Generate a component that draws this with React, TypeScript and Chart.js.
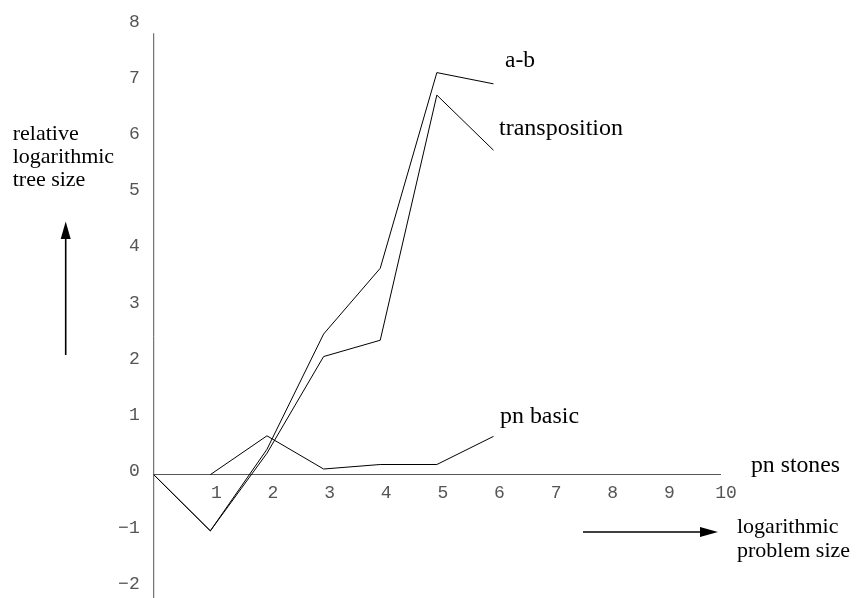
import React, { useEffect, useRef } from "react";
import { Chart, registerables } from "chart.js";

Chart.register(...registerables);

// ---- data ----
const xValues = [0, 1, 2, 3, 4, 5, 6];
const abValues = [0, -1, 0.45, 2.5, 3.67, 7.15, 6.95];
const transpositionValues = [0, -1, 0.38, 2.1, 2.39, 6.75, 5.77];
const pnBasicValues: (number | null)[] = [null, 0, 0.69, 0.1, 0.18, 0.18, 0.68];
const xTicks = [1, 2, 3, 4, 5, 6, 7, 8, 9, 10];
const yTicks = [-2, -1, 0, 1, 2, 3, 4, 5, 6, 7, 8];
const seriesLabels = ["a-b", "transposition", "pn basic"];
const xAxisTitle = "pn stones";
const xArrowTitle = ["logarithmic", "problem size"];
const yArrowTitle = ["relative", "logarithmic", "tree size"];

const AXIS_COLOR = "#555";
const TICK_COLOR = "#555";
const SERIF = '"Liberation Serif", "Times New Roman", serif';

function toPoints(vals: (number | null)[]) {
  return xValues.map((x, i) => ({ x, y: vals[i] }));
}

const annotationPlugin = {
  id: "annotations",
  afterDraw(chart: any) {
    const ctx = chart.ctx as CanvasRenderingContext2D;
    const xs = chart.scales.x;
    const ys = chart.scales.y;
    ctx.save();
    // vertical axis line
    const x0 = xs.getPixelForValue(0);
    ctx.strokeStyle = AXIS_COLOR;
    ctx.lineWidth = 1;
    ctx.beginPath();
    ctx.moveTo(x0, ys.getPixelForValue(7.85));
    ctx.lineTo(x0, chart.height);
    ctx.stroke();

    ctx.fillStyle = "#000";
    ctx.textBaseline = "alphabetic";
    ctx.textAlign = "left";
    const drawText = (t: string, x: number, y: number, size: number, w?: number) => {
      ctx.font = `${size}px ${SERIF}`;
      const m = ctx.measureText(t).width;
      const sx = w ? w / m : 1;
      ctx.save();
      ctx.translate(x, y);
      ctx.scale(sx, 1);
      ctx.fillText(t, 0, 0);
      ctx.restore();
    };
    drawText(seriesLabels[0], 505, 67, 24, 30);
    drawText(seriesLabels[1], 499, 135, 24, 124);
    drawText(seriesLabels[2], 500, 423, 24, 79);
    drawText(xAxisTitle, 751, 471.5, 24, 89);
    yArrowTitle.forEach((t, i) => drawText(t, 12.7, 140 + i * 23, 22));
    xArrowTitle.forEach((t, i) => drawText(t, 737, 533 + i * 23.5, 22));

    // arrows
    ctx.strokeStyle = "#000";
    ctx.fillStyle = "#000";
    ctx.lineWidth = 1.6;
    // up arrow
    ctx.beginPath();
    ctx.moveTo(65.7, 355);
    ctx.lineTo(65.7, 236);
    ctx.stroke();
    ctx.beginPath();
    ctx.moveTo(65.7, 221.5);
    ctx.lineTo(60.7, 239);
    ctx.lineTo(70.7, 239);
    ctx.closePath();
    ctx.fill();
    // right arrow
    ctx.beginPath();
    ctx.moveTo(583, 532);
    ctx.lineTo(704, 532);
    ctx.stroke();
    ctx.beginPath();
    ctx.moveTo(718, 532);
    ctx.lineTo(700, 527);
    ctx.lineTo(700, 537);
    ctx.closePath();
    ctx.fill();
    ctx.restore();
  },
};

export default function App() {
  const ref = useRef<HTMLCanvasElement | null>(null);
  useEffect(() => {
    if (!ref.current) return;
    const lineStyle = {
      borderColor: "#000",
      borderWidth: 1,
      pointRadius: 0,
      tension: 0,
      fill: false,
    };
    const chart = new Chart(ref.current, {
      type: "line",
      data: {
        datasets: [
          { label: seriesLabels[0], data: toPoints(abValues), ...lineStyle },
          { label: seriesLabels[1], data: toPoints(transpositionValues), ...lineStyle },
          { label: seriesLabels[2], data: toPoints(pnBasicValues), ...lineStyle },
        ] as any,
      },
      options: {
        responsive: false,
        animation: false,
        devicePixelRatio: 1,
        layout: { padding: { left: 0, right: 136, top: 24.7, bottom: 20 } },
        plugins: { legend: { display: false }, tooltip: { enabled: false } },
        scales: {
          x: {
            type: "linear",
            min: 0,
            max: 10,
            position: { y: 0 } as any,
            grid: { display: false, drawTicks: false },
            border: { display: true, color: AXIS_COLOR, width: 1 },
            afterBuildTicks: (s: any) => {
              s.ticks = xTicks.map((v) => ({ value: v }));
            },
            ticks: {
              autoSkip: false,
              maxRotation: 0,
              padding: 8,
              labelOffset: 6,
              color: TICK_COLOR,
              font: { family: '"Liberation Mono", monospace', size: 18 },
              callback: (v: any) => String(v),
            },
          },
          y: {
            type: "linear",
            min: -2.5,
            max: 8,
            position: "left",
            grid: { display: false, drawTicks: false },
            border: { display: false },
            afterFit: (s: any) => {
              s.width = 153.7;
            },
            afterBuildTicks: (s: any) => {
              s.ticks = yTicks.map((v) => ({ value: v }));
            },
            ticks: {
              autoSkip: false,
              padding: 14,
              labelOffset: -3,
              color: TICK_COLOR,
              font: { family: '"Liberation Mono", monospace', size: 18 },
              callback: (v: any) => (v < 0 ? "\u2212" + Math.abs(v) : String(v)),
            },
          },
        },
      } as any,
      plugins: [annotationPlugin],
    });
    return () => chart.destroy();
  }, []);
  return (
    <div style={{ position: "fixed", left: 0, top: 0, width: 856, height: 640, overflow: "hidden", background: "#fff" }}>
      <canvas ref={ref} width={856} height={640} style={{ display: "block" }} />
    </div>
  );
}
